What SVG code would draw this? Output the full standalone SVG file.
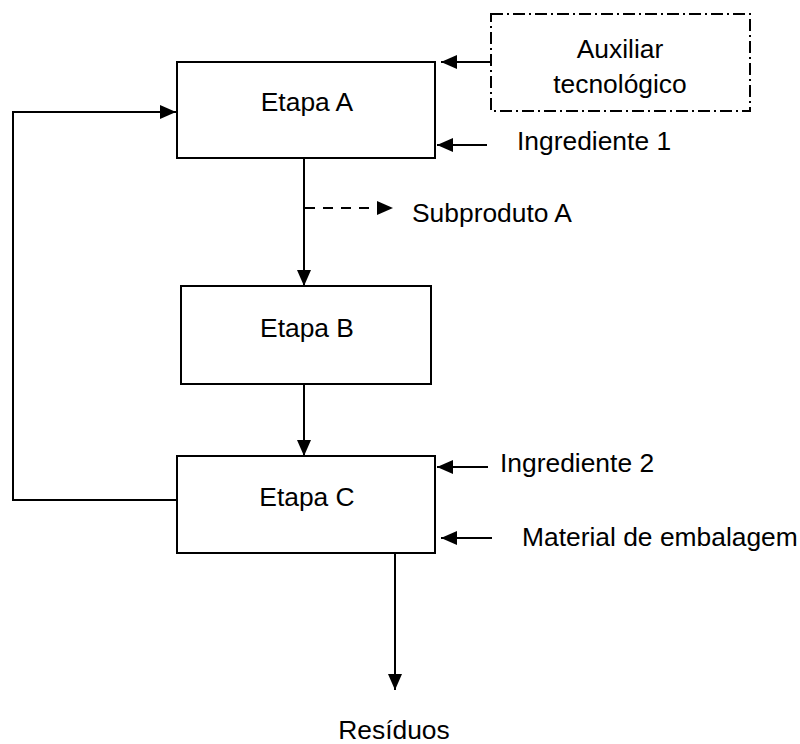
<svg xmlns="http://www.w3.org/2000/svg" width="800" height="744" viewBox="0 0 800 744">
<style>
.box{fill:#fff;stroke:#000;stroke-width:2}
.aux{fill:none;stroke:#000;stroke-width:2;stroke-dasharray:12 4 2 4}
.lbl{font-family:"Liberation Sans",Arial,sans-serif;font-size:26.4px;fill:#000}
.c{text-anchor:middle}
.ln{fill:none;stroke:#000;stroke-width:2}
.dash{stroke-dasharray:10 8}
</style>
<defs>
<marker id="ah" markerUnits="userSpaceOnUse" markerWidth="16" markerHeight="14" refX="16" refY="7" orient="auto">
<path d="M0,0 L16,7 L0,14 z" fill="#000" stroke="none"/>
</marker>
</defs>
<rect width="800" height="744" fill="#fff"/>
<g id="connectors">
<line class="ln" x1="304" y1="158" x2="304" y2="286" marker-end="url(#ah)"/>
<line class="ln dash" x1="305" y1="208" x2="393" y2="208" marker-end="url(#ah)"/>
<line class="ln" x1="304" y1="384" x2="304" y2="456" marker-end="url(#ah)"/>
<polyline class="ln" points="177,500 13,500 13,112 176,112" marker-end="url(#ah)"/>
<line class="ln" x1="490" y1="62" x2="441" y2="62" marker-end="url(#ah)"/>
<line class="ln" x1="487" y1="145" x2="437" y2="145" marker-end="url(#ah)"/>
<line class="ln" x1="488" y1="467" x2="437" y2="467" marker-end="url(#ah)"/>
<line class="ln" x1="492" y1="538" x2="441" y2="538" marker-end="url(#ah)"/>
<line class="ln" x1="395" y1="553" x2="395" y2="690" marker-end="url(#ah)"/>
</g>
<g id="etapa-a">
<rect class="box" x="177" y="62" width="258" height="96"/>
<text class="lbl c" x="307" y="111">Etapa A</text>
</g>
<g id="etapa-b">
<rect class="box" x="181" y="286" width="250" height="98"/>
<text class="lbl c" x="307" y="337">Etapa B</text>
</g>
<g id="etapa-c">
<rect class="box" x="177" y="456" width="258" height="97"/>
<text class="lbl c" x="307" y="506">Etapa C</text>
</g>
<g id="auxiliar">
<rect class="aux" x="491" y="14" width="259" height="97"/>
<text class="lbl c" x="620" y="58">Auxiliar</text>
<text class="lbl c" x="620" y="93">tecnológico</text>
</g>
<g id="ingrediente-1"><text class="lbl" x="517" y="150">Ingrediente 1</text></g>
<g id="subproduto-a"><text class="lbl" x="412" y="222">Subproduto A</text></g>
<g id="ingrediente-2"><text class="lbl" x="500" y="472">Ingrediente 2</text></g>
<g id="material"><text class="lbl" x="522" y="546">Material de embalagem</text></g>
<g id="residuos"><text class="lbl c" x="394" y="739">Resíduos</text></g>
</svg>
